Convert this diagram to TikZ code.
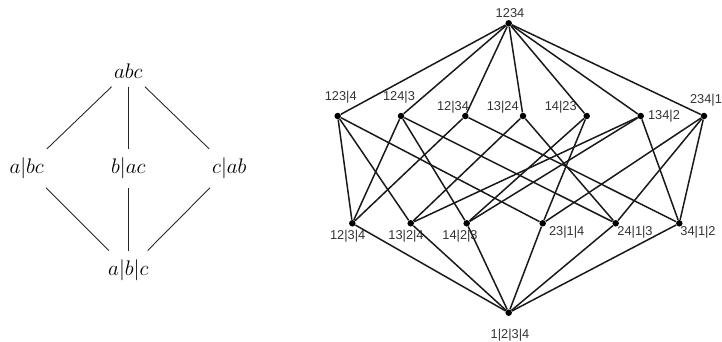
\documentclass[tikz,border=0pt]{standalone}
\usepackage{fontspec}
\newfontfamily\lblfont{Liberation Sans}
\usetikzlibrary{positioning}
\tikzset{
    latnode/.style={minimum width=1.0cm, minimum height=0.78cm, inner sep=0pt, outer sep=0pt, font=\fontsize{13}{15}\selectfont},
    latline/.style={line width=0.5pt, draw=black!85},
    dot/.style={circle, fill=black, minimum size=0.13cm, inner sep=0pt},
    lbl/.style={font=\lblfont\fontsize{7.3}{8.5}\selectfont, text=black!80, inner sep=0pt},
    edge/.style={line width=0.85pt, draw=black!90}
}
\begin{document}
\begin{tikzpicture}[x=0.02cm,y=-0.02cm]
    \useasboundingbox (0,0) rectangle (722,341);
    % left lattice for three elements
    \node[latnode, minimum height=0.64cm] (abc) at (128.3,70.7) {$abc$};
    \node[latnode] (abc1) at (26.7,168.3) {$a|bc$};
    \node[latnode] (abc2) at (128.3,168.3) {$b|ac$};
    \node[latnode] (abc3) at (229.3,168.3) {$c|ab$};
    \node[latnode] (abcb) at (128.3,270) {$a|b|c$};
    \foreach \m in {abc1,abc2,abc3} {
        \draw[latline] (abc) -- (\m);
        \draw[latline] (\m) -- (abcb);
    }
    % right lattice for four elements
    \foreach \n/\x/\y/\lx/\ly/\t in {
        top/508.7/23.3/510/13/1234,
        m1/337.7/116/340.7/97/123|4,
        m2/401/116/399/97/124|3,
        m3/465.3/116/453/107/12|34,
        m4/523/116/502.7/107/13|24,
        m5/586.7/116/560.7/107/14|23,
        m6/640.7/116/664/116/134|2,
        m7/704/116/706/100.7/234|1,
        b1/352.3/223.3/347.7/236.7/12|3|4,
        b2/410.7/223.3/406/236.7/13|2|4,
        b3/466.7/223.3/460/236.7/14|2|3,
        b4/542.7/223.3/566.7/232/23|1|4,
        b5/615.7/223.3/635/232/24|1|3,
        b6/679.3/223.3/698/232/34|1|2,
        bot/508.7/312.7/510/335/1|2|3|4} {
        \node[dot] (\n) at (\x,\y) {};
        \node[lbl] (\n-l) at (\lx,\ly) {\t};
    }
    \foreach \m in {m1,m2,m3,m4,m5,m6,m7}
        \draw[edge] (top) -- (\m);
    \foreach \m in {b1,b2,b3,b4,b5,b6}
        \draw[edge] (\m) -- (bot);
    \foreach \a/\b in {m1/b1, m1/b2, m1/b4, m2/b1, m2/b3, m2/b5,
                       m6/b2, m6/b3, m6/b6, m7/b4, m7/b5, m7/b6,
                       m3/b1, m3/b6, m4/b2, m4/b5, m5/b3, m5/b4}
        \draw[edge] (\a) -- (\b);
\end{tikzpicture}
\end{document}
